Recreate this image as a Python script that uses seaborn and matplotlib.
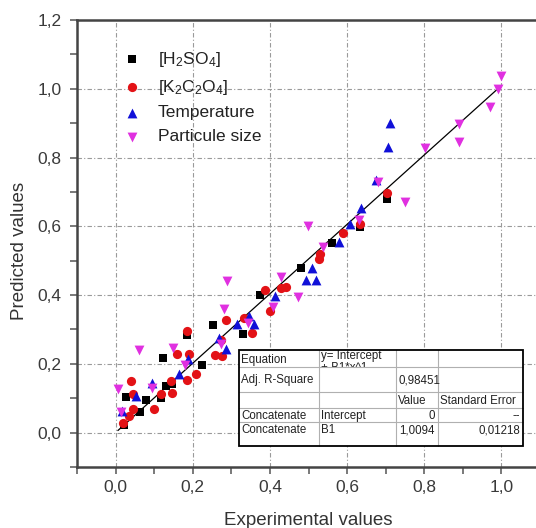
import numpy as np
import pandas as pd
import matplotlib
matplotlib.use("Agg")
import matplotlib.pyplot as plt
from matplotlib.ticker import FuncFormatter, MultipleLocator
from matplotlib.patches import Rectangle
import seaborn as sns

# ---------------- data ----------------
h2so4_x = [0.021, 0.062, 0.026, 0.078, 0.118, 0.131, 0.146, 0.122, 0.225, 0.186,
           0.252, 0.330, 0.375, 0.481, 0.561, 0.633, 0.703]
h2so4_y = [0.023, 0.061, 0.105, 0.094, 0.100, 0.135, 0.142, 0.216, 0.196, 0.284,
           0.312, 0.287, 0.400, 0.480, 0.551, 0.597, 0.678]

k2c2o4_x = [0.018, 0.035, 0.045, 0.039, 0.044, 0.100, 0.118, 0.145, 0.144, 0.160,
            0.186, 0.209, 0.190, 0.186, 0.257, 0.276, 0.273, 0.287, 0.332, 0.354,
            0.387, 0.399, 0.429, 0.442, 0.527, 0.530, 0.590, 0.633, 0.703]
k2c2o4_y = [0.027, 0.047, 0.069, 0.149, 0.112, 0.069, 0.111, 0.114, 0.151, 0.229,
            0.153, 0.170, 0.230, 0.295, 0.225, 0.222, 0.270, 0.327, 0.332, 0.290,
            0.416, 0.355, 0.420, 0.424, 0.505, 0.520, 0.580, 0.607, 0.697]

temp_x = [0.017, 0.054, 0.094, 0.164, 0.187, 0.268, 0.286, 0.315, 0.347, 0.360,
          0.412, 0.494, 0.520, 0.509, 0.578, 0.607, 0.635, 0.675, 0.705, 0.712]
temp_y = [0.064, 0.107, 0.144, 0.170, 0.214, 0.276, 0.243, 0.315, 0.339, 0.317,
          0.398, 0.444, 0.444, 0.478, 0.554, 0.607, 0.653, 0.736, 0.830, 0.900]

part_x = [0.006, 0.015, 0.060, 0.094, 0.148, 0.180, 0.272, 0.280, 0.289, 0.342,
          0.408, 0.429, 0.472, 0.499, 0.537, 0.632, 0.680, 0.750, 0.802, 0.891,
          0.891, 0.971, 0.990, 1.000]
part_y = [0.128, 0.059, 0.240, 0.130, 0.247, 0.197, 0.259, 0.360, 0.440, 0.319,
          0.365, 0.453, 0.393, 0.602, 0.540, 0.617, 0.730, 0.670, 0.827, 0.898,
          0.846, 0.946, 1.000, 1.038]

series_labels = [r"[H$_2$SO$_4$]", r"[K$_2$C$_2$O$_4$]", "Temperature", "Particule size"]

# fit parameters (from table)
intercept = 0.0
slope = 1.0094
slope_err = 0.01218
adj_r2 = 0.98451

table_rows = [
    ["Equation", "y= Intercept\n+ B1*x^1", "", ""],
    ["Adj. R-Square", "", "0,98451", ""],
    ["", "", "Value", "Standard Error"],
    ["Concatenate", "Intercept", "0", "--"],
    ["Concatenate", "B1", "1,0094", "0,01218"],
]

# ---------------- style ----------------
sns.set_theme(style="white")
plt.rcParams["font.family"] = ["Liberation Sans", "DejaVu Sans"]
plt.rcParams["mathtext.default"] = "regular"

W, H = 536, 528
fig = plt.figure(figsize=(W / 100, H / 100), dpi=100)
# axes in pixel terms: left 77, top 20, bottom 467, width 463 (right edge cropped)
ax = fig.add_axes([77 / W, 1 - 467 / H, 463 / W, 447 / H])

frames = []
for lab, xs, ys in zip(series_labels, [h2so4_x, k2c2o4_x, temp_x, part_x],
                       [h2so4_y, k2c2o4_y, temp_y, part_y]):
    frames.append(pd.DataFrame({"x": xs, "y": ys, "series": lab}))
df = pd.concat(frames, ignore_index=True)

colors = ["#000000", "#e31216", "#1010d8", "#e030e0"]
markers = ["s", "o", "^", "v"]
sizes = [38, 44, 50, 50]

# fit line across data range
xmin, xmax = df["x"].min(), df["x"].max()
fx = np.array([xmin, xmax])
ax.plot(fx, intercept + slope * fx, color="black", lw=0.9, zorder=2)

for lab, c, m, s in zip(series_labels, colors, markers, sizes):
    sub = df[df["series"] == lab]
    sns.scatterplot(data=sub, x="x", y="y", color=c, marker=m, s=s,
                    linewidth=0, label=lab, ax=ax, zorder=3)

ax.set_xlim(-0.1, 1.1)
ax.set_ylim(-0.1, 1.2)
ax.xaxis.set_minor_locator(MultipleLocator(0.1))
ax.yaxis.set_minor_locator(MultipleLocator(0.1))
fmt = FuncFormatter(lambda v, p: f"{v:.1f}".replace(".", ",").replace("-0,0", "0,0"))
ax.set_xticks(np.round(np.arange(0, 1.01, 0.2), 1))
ax.set_yticks(np.round(np.arange(0, 1.21, 0.2), 1))
ax.xaxis.set_major_formatter(fmt)
ax.yaxis.set_major_formatter(fmt)

ax.tick_params(axis="both", which="both", direction="out", length=5, width=1.1,
               color="#555555", labelsize=12.5, labelcolor="#3a3a3a",
               bottom=True, left=True, top=False, right=False)
ax.tick_params(axis="y", which="major", pad=6)
ax.tick_params(axis="x", which="major", pad=4)

for sp in ["left", "bottom", "top"]:
    ax.spines[sp].set_color("#444444")
    ax.spines[sp].set_linewidth(1.8)
ax.spines["right"].set_visible(False)

ax.grid(True, which="major", color="#9a9a9a", lw=0.8, linestyle=(0, (4, 2, 1, 2)))
ax.set_axisbelow(True)

ax.set_xlabel("Experimental values", fontsize=13.5, color="#333333")
ax.set_ylabel("Predicted values", fontsize=13.5, color="#333333")
ax.xaxis.set_label_coords(0.5, -0.1)
ax.yaxis.set_label_coords(-0.105, 0.483)

leg = ax.legend(loc="upper left", bbox_to_anchor=(0.082, 0.933), frameon=False,
                fontsize=12.5, borderaxespad=0, borderpad=0, handlelength=2.0,
                handletextpad=0.45, labelspacing=0.5)
for t in leg.get_texts():
    t.set_color("#222222")

# ---------------- table (axes-fraction layout) ----------------
def px2ax(px, py):
    return (px - 77) / 463, (467 - py) / 447

col_px = [239, 319, 396, 438, 523]
row_px = [350, 367.3, 391.7, 408.3, 422.3, 446]
x0, y0 = px2ax(col_px[0], row_px[-1])
x1, y1 = px2ax(col_px[-1], row_px[0])
ax.add_patch(Rectangle((x0, y0), x1 - x0, y1 - y0, transform=ax.transAxes,
                       facecolor="white", edgecolor="none", zorder=5))
# white mask under the first row so the overflowing equation text is cut
mx0, my0 = px2ax(col_px[0] + 1, row_px[-1] - 1)
mx1, my1 = px2ax(col_px[-1] - 1, row_px[1] + 0.6)
ax.add_patch(Rectangle((mx0, my0), mx1 - mx0, my1 - my0, transform=ax.transAxes,
                       facecolor="white", edgecolor="none", zorder=8.5))

for cp in col_px[1:-1]:
    cx, _ = px2ax(cp, 0)
    ax.plot([cx, cx], [y0, y1], transform=ax.transAxes, color="#b0b0b0", lw=0.8, zorder=9)
for rp in row_px[1:-1]:
    _, ry = px2ax(0, rp)
    ax.plot([x0, x1], [ry, ry], transform=ax.transAxes, color="#b0b0b0", lw=0.8, zorder=9)
ax.add_patch(Rectangle((x0, y0), x1 - x0, y1 - y0, transform=ax.transAxes,
                       facecolor="none", edgecolor="black", lw=1.3, zorder=10))

right_align = {(3, 2), (3, 3), (4, 2), (4, 3)}
for r, row in enumerate(table_rows):
    for c, txt in enumerate(row):
        if not txt:
            continue
        top_py = row_px[r]
        if (r, c) in right_align:
            tx, _ = px2ax(col_px[c + 1] - 3, 0)
            ha = "right"
        else:
            tx, _ = px2ax(col_px[c] + 2, 0)
            ha = "left"
        if r == 0:
            if c == 1:
                _, ty = px2ax(0, top_py + 0.5)
                ax.text(tx, ty, txt, transform=ax.transAxes, fontsize=8.3, ha=ha,
                        va="top", color="#222222", zorder=8, linespacing=0.9)
                continue
            zt = 8
        else:
            zt = 9.5
        if r == 4:
            _, ty = px2ax(0, top_py + 8)
        else:
            _, ty = px2ax(0, (row_px[r] + row_px[r + 1]) / 2 + 1)
        ax.text(tx, ty, txt, transform=ax.transAxes, fontsize=8.3, ha=ha,
                va="center", color="#222222", zorder=zt)

fig.savefig("out.png", dpi=100)
